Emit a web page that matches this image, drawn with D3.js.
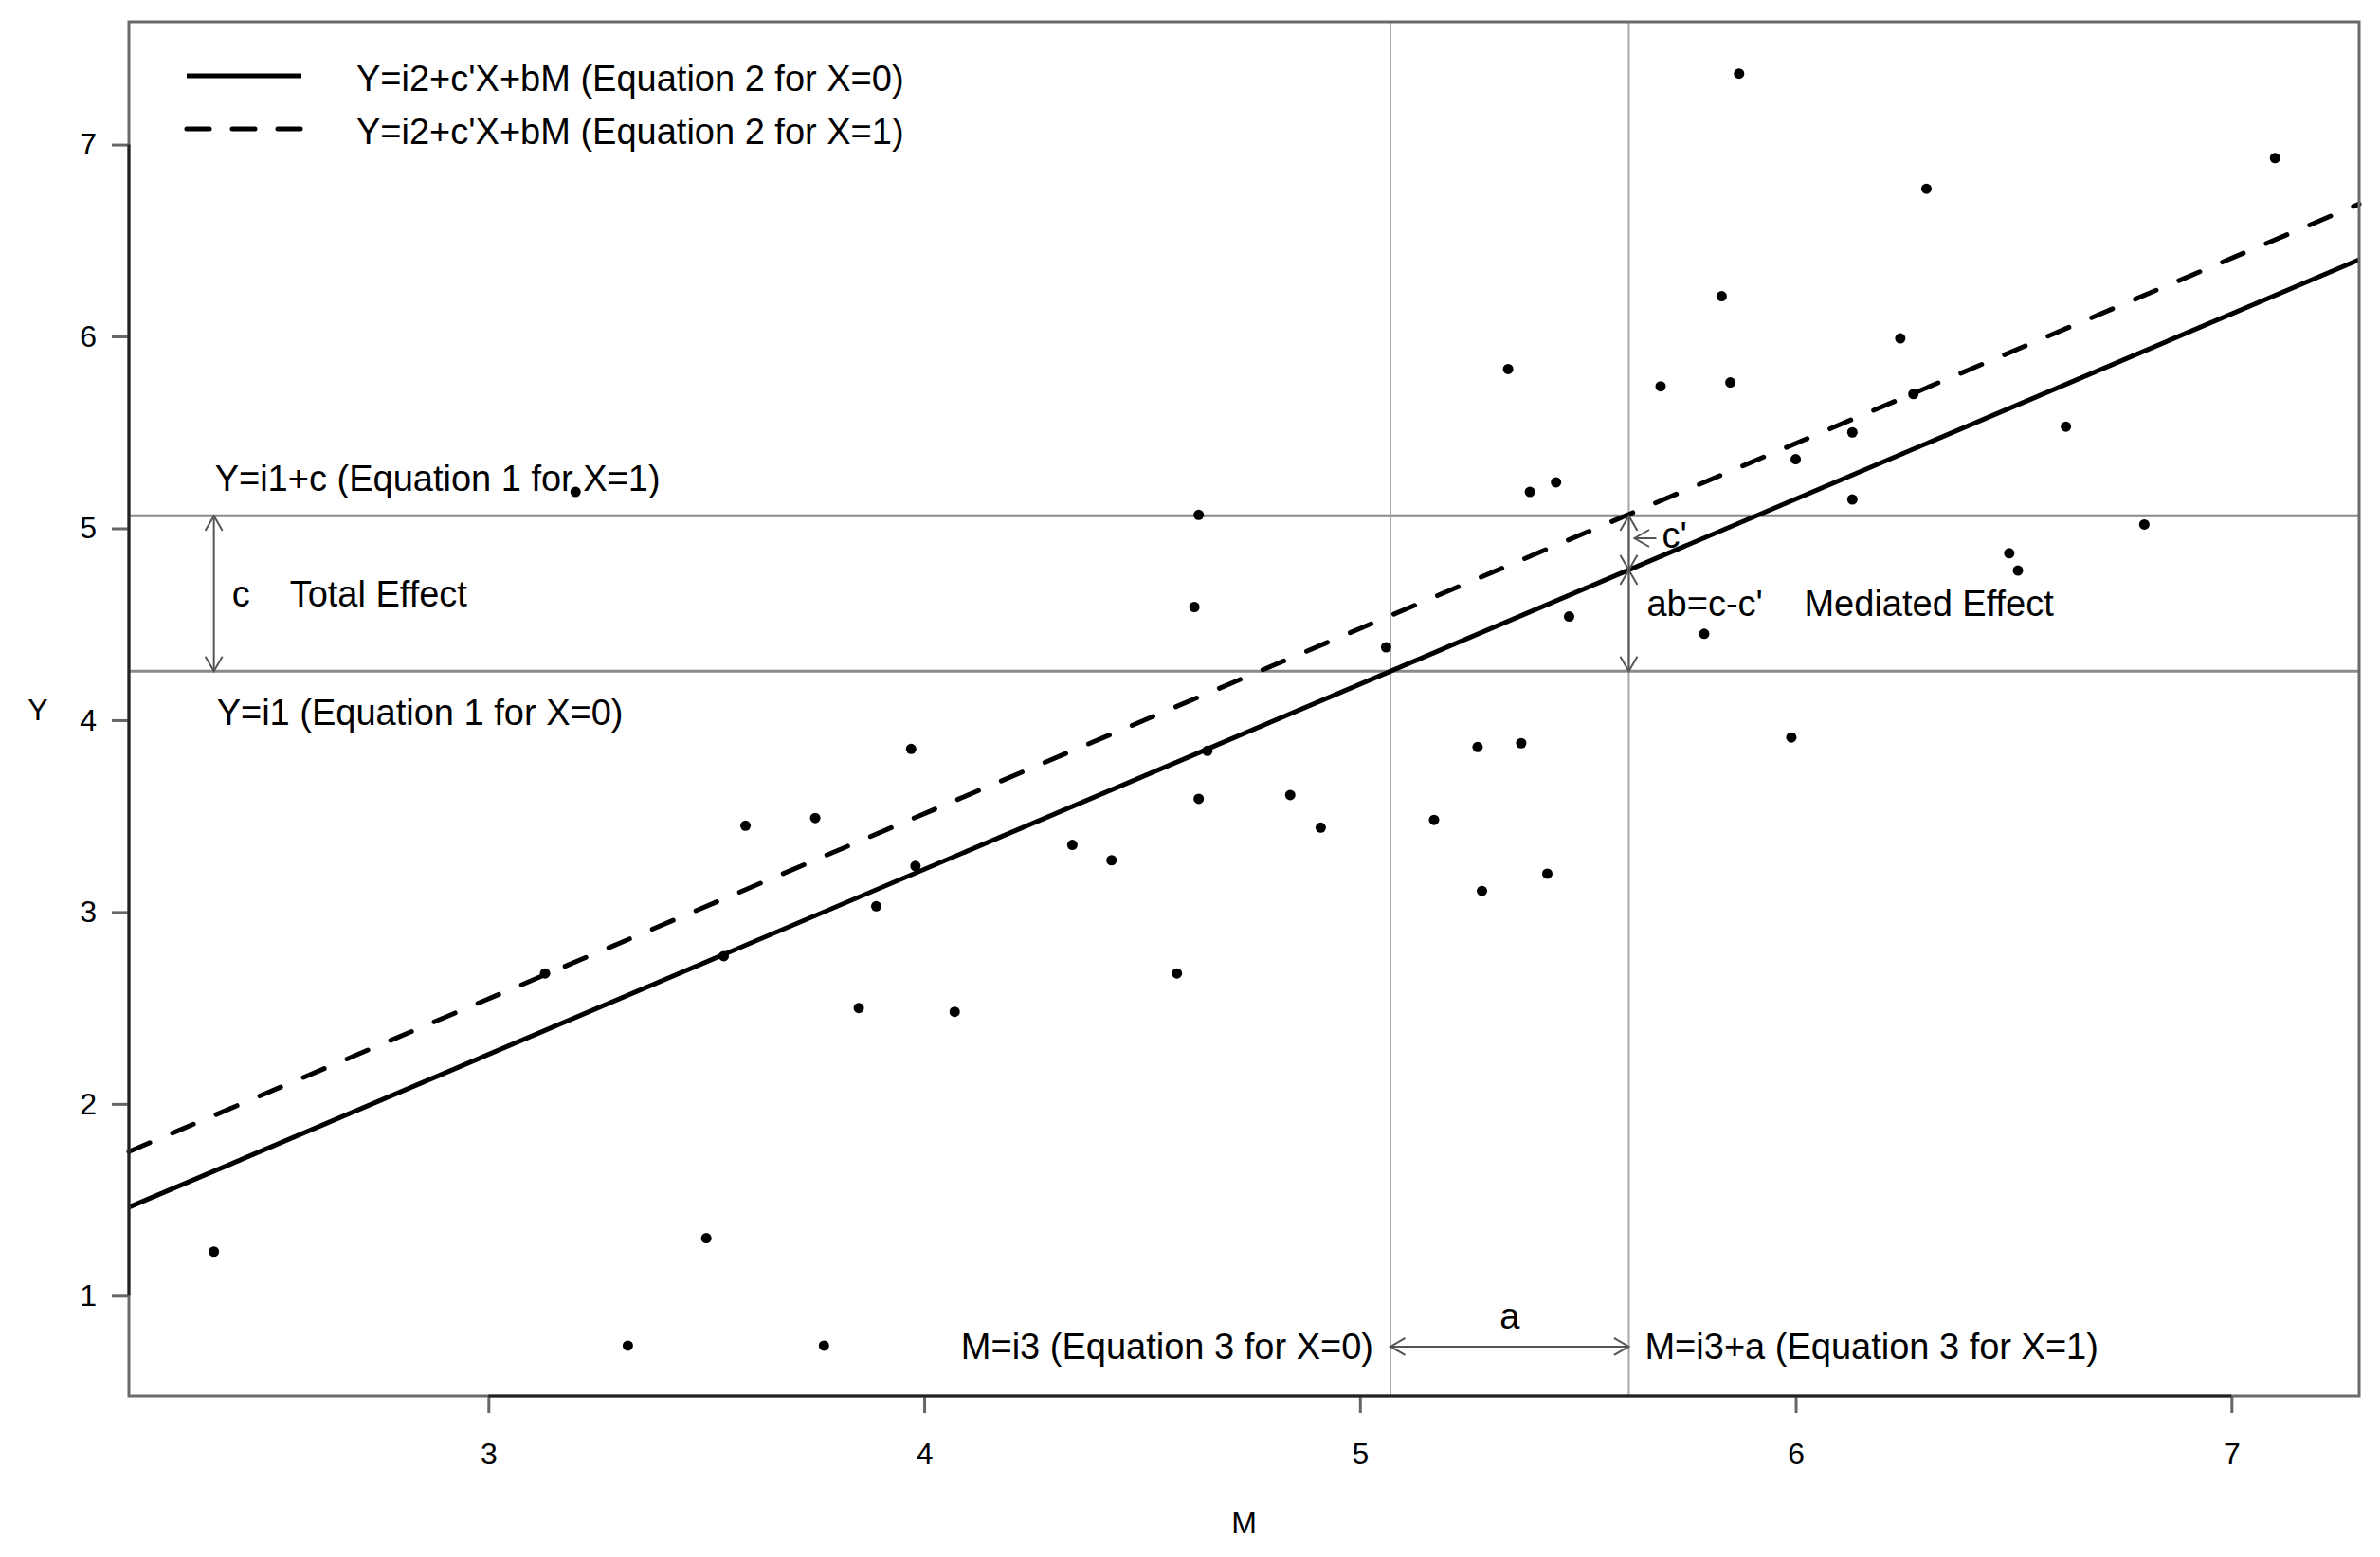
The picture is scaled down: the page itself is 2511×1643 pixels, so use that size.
<!DOCTYPE html>
<html>
<head>
<meta charset="utf-8">
<script src="https://cdn.jsdelivr.net/npm/d3@7"></script>
<style>
    body { margin: 0; background: #fff; }
    svg text { font-family: "Liberation Sans", Arial, Helvetica, sans-serif; fill: #000; }
</style>
</head>
<body>
<svg id="chart" width="2511" height="1643"></svg>
<script>
// observed points (M, Y)
const mValues = [2.37, 3.13, 3.20, 3.32, 3.50, 3.54, 3.59, 3.75, 3.77, 3.85,
    3.89, 3.97, 3.98, 4.07, 4.34, 4.43, 4.58, 4.62, 4.63, 4.63,
    4.65, 4.84, 4.91, 5.06, 5.17, 5.27, 5.28, 5.34, 5.37, 5.39,
    5.43, 5.45, 5.48, 5.69, 5.79, 5.83, 5.85, 5.87, 5.99, 6.00,
    6.13, 6.13, 6.24, 6.27, 6.30, 6.49, 6.51, 6.62, 6.80, 7.10];
const yValues = [1.23, 2.68, 5.19, 0.74, 1.30, 2.77, 3.45, 3.49, 0.74, 2.50,
    3.03, 3.85, 3.24, 2.48, 3.35, 3.27, 2.68, 4.59, 5.07, 3.59,
    3.84, 3.61, 3.44, 4.38, 3.48, 3.86, 3.11, 5.83, 3.88, 5.19,
    3.20, 5.24, 4.54, 5.74, 4.45, 6.21, 5.76, 7.37, 3.91, 5.36,
    5.50, 5.15, 5.99, 5.70, 6.77, 4.87, 4.78, 5.53, 5.02, 6.93];

const xTicks = [3, 4, 5, 6, 7];
const yTicks = [1, 2, 3, 4, 5, 6, 7];

// model coefficients
const i1 = 4.255, c = 0.81;
const i3 = 5.07, a = 0.547;
const b = 0.965, cPrime = 0.29;
const i2 = i1 - b * i3;

const legendLabels = ["Y=i2+c'X+bM (Equation 2 for X=0)", "Y=i2+c'X+bM (Equation 2 for X=1)"];

const svg = d3.select("#chart");
const box = { left: 136, top: 23, right: 2489, bottom: 1473 };

const x = d3.scaleLinear().domain([2.175, 7.293]).range([box.left, box.right]);
const y = d3.scaleLinear().domain([0.478, 7.64]).range([box.bottom, box.top]);

const annFont = 38;
const axisFont = 32;

// reference lines for equation 1 and 3
svg.selectAll(".hline")
    .data([i1, i1 + c])
    .join("line")
    .attr("x1", box.left).attr("x2", box.right)
    .attr("y1", d => y(d)).attr("y2", d => y(d))
    .attr("stroke", "#8a8a8a").attr("stroke-width", 3);

svg.selectAll(".vline")
    .data([i3, i3 + a])
    .join("line")
    .attr("y1", box.top).attr("y2", box.bottom)
    .attr("x1", d => x(d)).attr("x2", d => x(d))
    .attr("stroke", "#a8a8a8").attr("stroke-width", 2);

// regression lines
const line = d3.line().x(d => x(d[0])).y(d => y(d[1]));
const ends = x.domain();

svg.append("path")
    .attr("d", line(ends.map(m => [m, i2 + b * m])))
    .attr("fill", "none").attr("stroke", "#000").attr("stroke-width", 5);

svg.append("path")
    .attr("d", line(ends.map(m => [m, i2 + cPrime + b * m])))
    .attr("fill", "none").attr("stroke", "#000").attr("stroke-width", 5)
    .attr("stroke-dasharray", "24,26").attr("stroke-linecap", "round");

// points
svg.append("g").selectAll("circle")
    .data(mValues.map((m, i) => [m, yValues[i]]))
    .join("circle")
    .attr("cx", d => x(d[0]))
    .attr("cy", d => y(d[1]))
    .attr("r", 5.5)
    .attr("fill", "#000");

// arrows with open heads
function arrow(x1, y1, x2, y2, both) {
    const g = svg.append("g").attr("stroke", "#555").attr("stroke-width", 2).attr("fill", "none");
    g.append("line").attr("x1", x1).attr("y1", y1).attr("x2", x2).attr("y2", y2);
    const head = (px, py, ang) => {
        const len = 18, spread = Math.PI / 6;
        const p1 = [px - len * Math.cos(ang - spread), py - len * Math.sin(ang - spread)];
        const p2 = [px - len * Math.cos(ang + spread), py - len * Math.sin(ang + spread)];
        g.append("path").attr("d", `M${p1[0]},${p1[1]}L${px},${py}L${p2[0]},${p2[1]}`);
    };
    const ang = Math.atan2(y2 - y1, x2 - x1);
    head(x2, y2, ang);
    if (both) head(x1, y1, ang + Math.PI);
}

function label(txt, px, py, anchor) {
    svg.append("text")
        .attr("x", px).attr("y", py)
        .attr("text-anchor", anchor || "start")
        .style("font-size", annFont + "px")
        .text(txt);
}

// total effect
const leftX = x(2.37);
arrow(leftX, y(i1 + c), leftX, y(i1), true);
label("Y=i1+c (Equation 1 for X=1)", leftX + 1, y(i1 + c) - 26);
label("Y=i1 (Equation 1 for X=0)", leftX + 3, y(i1) + 57);
label("c", leftX + 19, 640);
label("Total Effect", leftX + 80, 640);

// direct and mediated effect
const xa = x(i3 + a);
const solidAtA = i2 + b * (i3 + a);
arrow(xa, y(i1 + c), xa, y(solidAtA), true);
arrow(xa, y(solidAtA), xa, y(i1), true);
arrow(xa + 29, 568, xa + 6, 568, false);
label("c'", xa + 35, 578);
label("ab=c-c'", xa + 19, 650);
label("Mediated Effect", xa + 185, 650);

// effect of X on M
const yBottom = y(0.735);
arrow(x(i3), yBottom, x(i3 + a), yBottom, true);
label("a", (x(i3) + x(i3 + a)) / 2, yBottom - 19, "middle");
label("M=i3 (Equation 3 for X=0)", x(i3) - 18, yBottom + 13, "end");
label("M=i3+a (Equation 3 for X=1)", xa + 17, yBottom + 13);

// legend
const legend = svg.append("g");
legendLabels.forEach((txt, i) => {
    const ly = 80 + i * 56;
    legend.append("line")
        .attr("x1", 197).attr("x2", 318)
        .attr("y1", ly).attr("y2", ly)
        .attr("stroke", "#000").attr("stroke-width", 5)
        .attr("stroke-linecap", i ? "round" : "butt")
        .attr("stroke-dasharray", i ? "24,24" : null);
    legend.append("text")
        .attr("x", 376).attr("y", ly + 16)
        .style("font-size", annFont + "px")
        .text(txt);
});

// box
svg.append("rect")
    .attr("x", box.left).attr("y", box.top)
    .attr("width", box.right - box.left).attr("height", box.bottom - box.top)
    .attr("fill", "none").attr("stroke", "#6a6a6a").attr("stroke-width", 3);

// axes
const xAxis = svg.append("g")
    .attr("transform", `translate(0,${box.bottom})`)
    .call(d3.axisBottom(x).tickValues(xTicks).tickSize(18).tickPadding(31).tickFormat(d3.format("d")));
const yAxis = svg.append("g")
    .attr("transform", `translate(${box.left},0)`)
    .call(d3.axisLeft(y).tickValues(yTicks).tickSize(18).tickPadding(16).tickFormat(d3.format("d")));

[xAxis, yAxis].forEach(g => {
    g.select(".domain").remove();
    g.selectAll(".tick line").attr("stroke", "#666").attr("stroke-width", 3);
    g.selectAll(".tick text").style("font-size", axisFont + "px")
        .style("font-family", "'Liberation Sans', Arial, sans-serif");
});

svg.append("line")
    .attr("x1", x(xTicks[0])).attr("x2", x(xTicks[xTicks.length - 1]))
    .attr("y1", box.bottom).attr("y2", box.bottom)
    .attr("stroke", "#222").attr("stroke-width", 3);
svg.append("line")
    .attr("y1", y(yTicks[0])).attr("y2", y(yTicks[yTicks.length - 1]))
    .attr("x1", box.left).attr("x2", box.left)
    .attr("stroke", "#222").attr("stroke-width", 3);

// axis titles
svg.append("text")
    .attr("x", (box.left + box.right) / 2).attr("y", 1618)
    .attr("text-anchor", "middle")
    .style("font-size", axisFont + "px")
    .text("M");
svg.append("text")
    .attr("x", 40).attr("y", (box.top + box.bottom) / 2 + 12)
    .attr("text-anchor", "middle")
    .style("font-size", axisFont + "px")
    .text("Y");
</script>
</body>
</html>
